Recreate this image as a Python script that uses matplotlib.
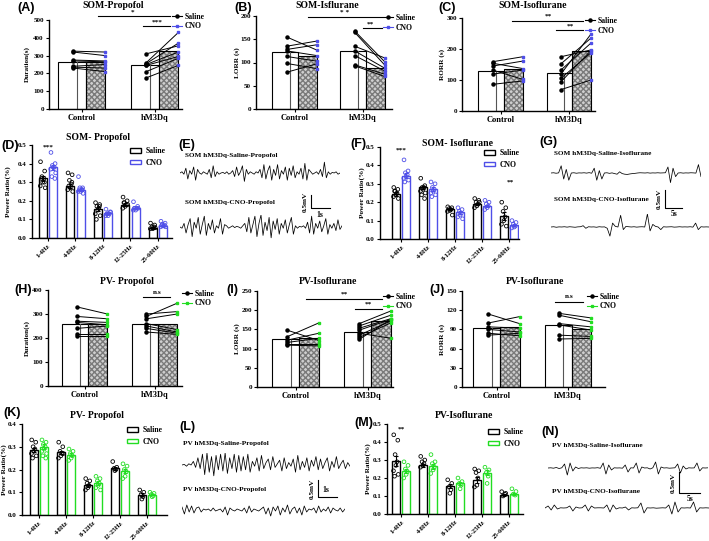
import matplotlib
matplotlib.use('Agg')
import matplotlib.pyplot as plt
from matplotlib.lines import Line2D
from matplotlib.patches import Patch
import numpy as np

W, H = 709, 541
BLUE = '#4f4fe8'
GREEN = '#22dd22'

plt.rcParams['font.family'] = ['Liberation Serif', 'DejaVu Serif']
plt.rcParams['font.weight'] = 'bold'
plt.rcParams['axes.linewidth'] = 1.0

groups = ['Control', 'hM3Dq']
bands = ['1-4Hz', '4-8Hz', '8-12Hz', '12-25Hz', '25-60Hz']

# (A) SOM propofol duration
a_sal = [[325, 320, 275, 270, 240, 235, 230], [310, 260, 255, 250, 245, 210, 175]]
a_cno = [[320, 300, 270, 265, 250, 230, 210], [355, 430, 370, 320, 295, 285, 245]]
a_bar = [[265, 245], [262, 325]]
# (B) SOM isoflurane LORR
b_sal = [[155, 135, 128, 125, 113, 98, 79], [168, 165, 135, 125, 115, 95, 93]]
b_cno = [[127, 146, 138, 115, 103, 87, 97], [102, 95, 110, 88, 82, 75, 70]]
b_bar = [[123, 125], [115, 88]]
# (C) SOM isoflurane RORR
c_sal = [[159, 154, 145, 132, 119, 86], [175, 152, 132, 119, 105, 94, 69]]
c_cno = [[175, 137, 161, 102, 132, 97], [197, 235, 219, 248, 188, 195, 100]]
c_bar = [[130, 121], [134, 195]]
# (H) PV propofol duration
h_sal = [[330, 290, 270, 265, 240, 215, 210], [300, 290, 280, 260, 250, 240, 225]]
h_cno = [[300, 280, 265, 255, 250, 215, 210], [310, 345, 300, 235, 225, 220, 215]]
h_bar = [[258, 260], [257, 258]]
# (I) PV isoflurane LORR
i_sal = [[148, 131, 122, 116, 112, 109], [165, 159, 153, 148, 140, 135, 129, 124]]
i_cno = [[121, 167, 140, 127, 112, 107], [198, 187, 178, 176, 127, 172, 167, 176]]
i_bar = [[124, 142], [128, 172]]
# (J) PV isoflurane RORR
j_sal = [[114, 100, 94, 90, 84, 81], [115, 112, 99, 97, 81, 75]]
j_cno = [[99, 110, 92, 86, 80, 84], [108, 102, 94, 89, 79, 76]]
j_bar = [[92, 97], [93, 90]]

# (D) SOM propofol power ratio
d_sal = [[0.41, 0.36, 0.33, 0.32, 0.30, 0.28, 0.27, 0.32, 0.30],
         [0.35, 0.34, 0.31, 0.29, 0.27, 0.26, 0.25, 0.28, 0.30],
         [0.19, 0.18, 0.17, 0.16, 0.15, 0.13, 0.12, 0.10, 0.17],
         [0.22, 0.20, 0.19, 0.18, 0.17, 0.16, 0.18, 0.19],
         [0.08, 0.07, 0.06, 0.06, 0.05, 0.05, 0.055]]
d_cno = [[0.46, 0.40, 0.39, 0.38, 0.38, 0.37, 0.35, 0.33, 0.32],
         [0.33, 0.27, 0.27, 0.26, 0.25, 0.25, 0.24, 0.26, 0.26],
         [0.155, 0.14, 0.13, 0.13, 0.12, 0.12, 0.14, 0.13],
         [0.195, 0.17, 0.16, 0.16, 0.15, 0.15, 0.16, 0.16],
         [0.09, 0.08, 0.075, 0.07, 0.065, 0.06, 0.06, 0.07]]
d_bar_sal = [0.32, 0.28, 0.155, 0.18, 0.055]
d_bar_cno = [0.38, 0.26, 0.135, 0.16, 0.065]
d_err_sal = [0.015, 0.012, 0.012, 0.008, 0.004]
d_err_cno = [0.013, 0.009, 0.005, 0.006, 0.004]
# (F) SOM isoflurane power ratio
f_sal = [[0.28, 0.27, 0.26, 0.25, 0.24, 0.23, 0.22, 0.26],
         [0.33, 0.29, 0.28, 0.28, 0.27, 0.26, 0.25, 0.24, 0.22],
         [0.175, 0.17, 0.165, 0.16, 0.155, 0.15, 0.13],
         [0.22, 0.21, 0.20, 0.19, 0.18, 0.17, 0.20],
         [0.20, 0.17, 0.15, 0.12, 0.10, 0.08, 0.07]]
f_cno = [[0.43, 0.37, 0.36, 0.35, 0.34, 0.33, 0.32, 0.31],
         [0.31, 0.30, 0.28, 0.27, 0.26, 0.25, 0.24, 0.23],
         [0.17, 0.16, 0.15, 0.14, 0.13, 0.12, 0.11],
         [0.21, 0.20, 0.19, 0.18, 0.17, 0.16],
         [0.10, 0.09, 0.08, 0.07, 0.065, 0.06]]
f_bar_sal = [0.245, 0.28, 0.165, 0.19, 0.125]
f_bar_cno = [0.345, 0.27, 0.145, 0.18, 0.075]
f_err_sal = [0.01, 0.01, 0.005, 0.006, 0.02]
f_err_cno = [0.013, 0.01, 0.007, 0.007, 0.006]
# (K) PV propofol power ratio
k_sal = [[0.33, 0.32, 0.30, 0.29, 0.28, 0.27, 0.26, 0.25],
         [0.32, 0.30, 0.28, 0.27, 0.26, 0.25, 0.27],
         [0.16, 0.15, 0.14, 0.13, 0.12, 0.11],
         [0.235, 0.21, 0.205, 0.20, 0.195],
         [0.11, 0.10, 0.09, 0.08, 0.07]]
k_cno = [[0.33, 0.32, 0.31, 0.30, 0.29, 0.28, 0.27, 0.26, 0.25],
         [0.29, 0.28, 0.27, 0.26, 0.25, 0.24],
         [0.17, 0.16, 0.15, 0.14, 0.13, 0.12, 0.11],
         [0.225, 0.215, 0.20, 0.19, 0.17, 0.16],
         [0.10, 0.095, 0.09, 0.085, 0.08]]
k_bar_sal = [0.285, 0.275, 0.13, 0.205, 0.09]
k_bar_cno = [0.30, 0.265, 0.14, 0.195, 0.09]
k_err_sal = [0.01, 0.008, 0.007, 0.005, 0.006]
k_err_cno = [0.01, 0.007, 0.008, 0.009, 0.004]
# (M) PV isoflurane power ratio
m_sal = [[0.44, 0.41, 0.33, 0.29, 0.27, 0.24, 0.22, 0.21],
         [0.32, 0.30, 0.29, 0.28, 0.27, 0.26],
         [0.19, 0.17, 0.15, 0.135, 0.115],
         [0.25, 0.24, 0.23, 0.20, 0.16, 0.15],
         [0.124, 0.115, 0.10, 0.11]]
m_cno = [[0.29, 0.27, 0.25, 0.235, 0.22, 0.20],
         [0.33, 0.29, 0.28, 0.26, 0.245, 0.225],
         [0.20, 0.18, 0.17, 0.16, 0.14],
         [0.26, 0.245, 0.23, 0.21, 0.17],
         [0.14, 0.125, 0.11, 0.105]]
m_bar_sal = [0.295, 0.27, 0.155, 0.19, 0.105]
m_bar_cno = [0.24, 0.265, 0.17, 0.23, 0.11]
m_err_sal = [0.03, 0.01, 0.013, 0.016, 0.006]
m_err_cno = [0.012, 0.015, 0.01, 0.015, 0.007]

# EEG traces (relative amplitude)
e_sal = [0.0, 0.1, -0.1, 0.4, -0.5, 0.2, -0.1, 0.5, -0.6, 0.3, 0.0, -0.1, 0.1, 0.0, -0.1, 0.3, -0.4, 0.6, -0.3, 0.1,
         -0.1, 0.0, 0.05, -0.05, 0.1, -0.1, 0.0, 0.2, -0.3, 0.5, -0.2, 0.1, 0.6, -0.7, 0.3, -0.1, 0.1, 0.0, -0.1, 0.1,
         0.0, 0.3, -0.4, 0.7, -0.5, 0.2, 0.6, -0.6, 0.3, -0.2, 0.7, -0.5, 0.2, -0.1, 0.5, -0.6, 0.4, -0.2, 0.6, -0.4,
         0.1, -0.1, 0.4, -0.5, 0.8, -0.6, 0.3, 0.1, -0.1, 0.0, 0.1, -0.1, 0.3, -0.3, 0.9, -0.4, 0.1, -0.1, 0.05, 0.0,
         0.1, -0.1, 0.0]
e_cno = [0.0, -0.1, 0.3, -0.5, 0.2, 0.7, -0.8, 0.4, -0.1, 0.8, -0.6, 0.2, 0.9, -0.7, 0.3, -0.2, 0.6, -0.5, 0.1, -0.1,
         0.7, -0.6, 0.2, 0.1, -0.1, 0.0, 0.1, -0.05, 0.05, 0.0, -0.1, 0.1, 0.3, -0.4, 0.8, -0.5, 0.2, 0.9, -0.8, 0.3,
         1.0, -0.7, 0.4, -0.3, 0.8, -0.9, 0.5, -0.2, 0.7, -0.6, 0.3, -0.1, 0.6, -0.5, 0.2, 0.8, -0.6, 0.1, -0.1, 0.05,
         0.0, 0.1, -0.1, 0.4, -0.5, 0.9, -0.6, 0.3, -0.1, 0.5, -0.4, 0.1, 0.7, -0.6, 0.2, -0.1, 0.3, -0.3, 0.6, -0.2,
         0.1]
g_sal = [0, 0.02, -0.02, 0.01, 0.6, -0.5, 0.3, -0.6, 0.0, 0.02, -0.02, 0.01, 0, 0.02, -0.01, 0.03, -0.02, 0.4, -0.6,
         0.2, -0.5, 0.0, 0.02, -0.03, 0.01, -0.05, -0.1, 0.1, -0.05, -0.1, -0.12, -0.08, -0.05, -0.03, 0.0, 0.02, 0.01,
         0.0, 0.02, -0.01, 0.01, 0.0, 0.02, 0.0, 0.01, 0.02, 0.5, -0.8, 0.4, -0.3, 0.0, 0.02, -0.01, 0.01, 0.0, 0.02,
         0.01, -0.01, 0.7, -0.3]
g_cno = [0, 0.02, -0.02, 0.01, 0, 0.02, -0.01, 0.02, 0.0, -0.02, 0.01, 0.02, 0.1, -0.1, 0.02, 0.0, 0.01, -0.02, 0.02,
         0.0, 0.01, -0.1, -0.7, 0.3, 0.05, 0.0, 0.9, -0.2, 0.05, 0.02, 0.0, 0.02, -0.01, 0.01, 0.02, 0.0, 1.0, -0.3,
         0.2, 0.05, 0.0, -0.2, 0.02, 0.0, 0.01, 0.02, -0.01, 0.0, 0.02, 0.0, 0.01, 0.0, 0.02, -0.01, 0.3, -0.2, 0.02,
         0.0, 0.01, 0.0]
l_sal = [0, 0.05, -0.1, 0.1, 0.0, 0.3, -0.2, 0.6, -0.3, 0.9, -0.8, 1.0, -0.6, 0.7, -0.9, 0.8, -0.4, 0.9, -0.5, 1.0,
         -0.7, 0.6, -0.3, 0.9, -0.6, 0.8, -0.5, 0.7, -0.4, 0.9, -0.6, 0.3, -0.1, 0.6, -0.5, 0.8, -0.3, 0.2, 0.5, -0.4,
         0.7, -0.2, 0.1, 0.4, -0.5, 0.6, -0.3, 0.2, -0.1, 0.5, -0.6, 0.8, -0.4, 0.3, -0.2, 0.6, -0.5, 0.4, -0.1, 0.7,
         -0.4, 0.5, -0.3, 0.2, 0.6, -0.5, 0.3, -0.2, 0.7, -0.3, 0.1, 0.4, -0.3, 0.2, -0.1]
l_cno = [0.3, -0.4, 0.5, -0.2, 0.4, -0.3, 0.2, 0.3, -0.2, 0.1, 0.0, 0.1, -0.1, 0.2, -0.1, 0.0, 0.1, -0.2, 0.3, -0.5,
         0.2, 0.0, -0.1, 0.1, 0.0, -0.1, 0.2, -0.3, 0.4, -0.2, 0.1, 0.0, -0.1, 0.1, 0.3, -0.4, 0.2, -0.6, 0.3, -0.1,
         0.4, -0.5, 0.2, -0.2, 0.5, -0.4, 0.1, 0.3, -0.3, 0.2, -0.5, 0.4, -0.2, 0.1, 0.0, 0.2, -0.3, 0.4, -0.2, 0.1,
         -0.1, 0.3, -0.3, 0.2, 0.0, -0.1, 0.2, -0.2, 0.1]
n_sal = [0, 0.02, -0.02, 0.05, -0.05, 0.02, 0.4, -0.7, 0.5, -0.3, 0.1, -0.05, 0.02, 0.0, 0.02, -0.02, 0.01, 0.0, 0.03,
         -0.03, 0.5, -0.6, 0.3, -0.2, 0.02, 0.0, 0.01, -0.02, 0.3, -0.4, 0.02, 0.0, 0.5, -0.5, 0.1, 0.0, 0.02, -0.1,
         0.02, 0.6, -0.6, 0.1, 0.0, 0.02, -0.02, 0.0, 0.02, 0.4, -0.5, 0.2, -0.1, 0.02, 0.0, 0.01, 0.5, -0.3, 0.02,
         0.0, 0.02]
n_cno = [0, 0.2, -0.2, 0.3, -0.1, 0.02, 0.0, 0.02, 0.2, -0.3, 0.1, 0.0, 0.02, 0.3, -0.3, 0.2, 0.0, 0.02, 0.02, 0.0,
         0.3, -0.4, 0.3, -0.1, 0.02, 0.0, 0.1, -0.2, 0.02, 0.0, 0.02, 0.5, -0.5, 0.02, 0.0, 0.02, -0.02, 0.0, 0.02,
         0.0, 0.3, -0.6, 0.6, -0.4, 0.02, 0.0, 0.02, 0.0, 0.6, -0.4, 0.02, 0.0, 0.02, 0.0]

JIT = [-0.08, 0.07, -0.03, 0.04, 0.0, -0.09, 0.09, -0.05, 0.06]

fig = plt.figure(figsize=(W / 100, H / 100), dpi=100)


def frac(x0, y0, x1, y1):
    return [x0 / W, 1 - y1 / H, (x1 - x0) / W, (y1 - y0) / H]


def ftext(x, y, s, **kw):
    kw.setdefault('ha', 'center')
    kw.setdefault('va', 'center')
    kw.setdefault('fontsize', 5.2)
    kw.setdefault('fontweight', 'bold')
    fig.text(x / W, 1 - y / H, s, **kw)


def fline(xs, ys, lw=0.8):
    fig.add_artist(Line2D([x / W for x in xs], [1 - y / H for y in ys], color='black', lw=lw))


def label(x, y, s):
    ftext(x, y, s, fontsize=9, family=['Liberation Sans', 'DejaVu Sans'])


def style(ax):
    for s in ['top', 'right']:
        ax.spines[s].set_visible(False)
    ax.tick_params(direction='out', length=2.5, width=0.8, labelsize=5, pad=1.2)
    for t in ax.get_xticklabels() + ax.get_yticklabels():
        t.set_fontweight('bold')


def paired(box, xlim, ylim, yticks, sal, cno, bar, col, ylab, ylx, leg):
    ax = fig.add_axes(frac(*box))
    for i in range(2):
        ax.bar(i - 0.14, bar[0][i], width=0.38, color='white', edgecolor='black', lw=0.8, zorder=1)
        ax.plot([i - 0.07, i - 0.07], [0, bar[0][i]], color='#555555', lw=0.8, zorder=1)
        ax.bar(i + 0.185, bar[1][i], width=0.27, color='#cfcfcf', hatch='xxxxxx', edgecolor='#7a7a7a', lw=0, zorder=1)
        ax.bar(i + 0.185, bar[1][i], width=0.27, fill=False, edgecolor='black', lw=0.8, zorder=2)
        for s, c in zip(sal[i], cno[i]):
            ax.plot([i - 0.12, i + 0.32], [s, c], color='black', lw=0.7, zorder=3)
        ax.plot([i - 0.12] * len(sal[i]), sal[i], 'o', ms=2.2, color='black', zorder=4)
        ax.plot([i + 0.32] * len(cno[i]), cno[i], 's', ms=2.0, color=col, zorder=4)
    ax.set_xlim(*xlim)
    ax.set_ylim(*ylim)
    ax.set_yticks(yticks)
    ax.set_xticks([0, 1])
    ax.set_xticklabels(groups)
    style(ax)
    ax.tick_params(axis='x', labelsize=6)
    ftext(ylx, (box[1] + box[3]) / 2, ylab, rotation=90)
    hs = [Line2D([], [], color='black', marker='o', ms=2.2, lw=0.8),
          Line2D([], [], color=col, marker='s', ms=2.0, lw=0.8)]
    fig.legend(hs, ['Saline', 'CNO'], loc='center left', bbox_to_anchor=(leg[0] / W, 1 - leg[1] / H),
               frameon=False, handlelength=1.3, handletextpad=0.3, labelspacing=0.25,
               borderpad=0, borderaxespad=0, prop={'weight': 'bold', 'size': 5.5})
    return ax


def power(box, xlim, ylim, yticks, sal, cno, bs, bc, es, ec, col, ylx, leg):
    ax = fig.add_axes(frac(*box))
    x = np.arange(5)
    ax.bar(x - 0.19, bs, width=0.3, color='white', edgecolor='black', lw=1.0, zorder=1)
    ax.bar(x + 0.19, bc, width=0.3, color='white', edgecolor=col, lw=1.0, zorder=1)
    ax.errorbar(x - 0.19, bs, yerr=es, fmt='none', ecolor='black', elinewidth=0.8, capsize=1.5, capthick=0.8, zorder=3)
    ax.errorbar(x + 0.19, bc, yerr=ec, fmt='none', ecolor=col, elinewidth=0.8, capsize=1.5, capthick=0.8, zorder=3)
    for i in range(5):
        ax.scatter(x[i] - 0.19 + np.array(JIT[:len(sal[i])]), sal[i], s=7, facecolors='none',
                   edgecolors='black', lw=0.6, zorder=4)
        ax.scatter(x[i] + 0.19 + np.array(JIT[:len(cno[i])]), cno[i], s=7, facecolors='none',
                   edgecolors=col, lw=0.6, zorder=4)
    ax.set_xlim(*xlim)
    ax.set_ylim(*ylim)
    ax.set_yticks(yticks)
    ax.set_yticklabels(['%.1f' % t for t in yticks])
    ax.set_xticks(x)
    ax.set_xticklabels(bands, rotation=45, ha='right', rotation_mode='anchor')
    style(ax)
    ax.tick_params(axis='x', labelsize=4.8)
    ftext(ylx, (box[1] + box[3]) / 2, 'Power Ratio(%)', rotation=90)
    hs = [Patch(facecolor='white', edgecolor='black', lw=1.0), Patch(facecolor='white', edgecolor=col, lw=1.0)]
    fig.legend(hs, ['Saline', 'CNO'], loc='center left', bbox_to_anchor=(leg[0] / W, 1 - leg[1] / H),
               frameon=False, handlelength=1.4, handleheight=0.6, handletextpad=0.6, labelspacing=0.45,
               borderpad=0, borderaxespad=0, prop={'weight': 'bold', 'size': 5.5})
    return ax


def trace(box, vals):
    ax = fig.add_axes(frac(*box))
    ax.plot(vals, color='black', lw=0.55)
    ax.set_xlim(0, len(vals) - 1)
    ax.set_ylim(-1, 1)
    ax.axis('off')


def scalebar(x, y0, y1, x1, tx, ty, t):
    fline([x, x, x1], [y0, y1, y1])
    ftext(x - 6, (y0 + y1) / 2, '0.5mV', rotation=90, fontsize=5.2)
    ftext(tx, ty, t, fontsize=5.5)


# Row 1 paired panels
paired((49, 20, 182, 109), (-0.45, 1.37), (0, 500), range(0, 501, 100), a_sal, a_cno, a_bar, BLUE,
       'Duration(s)', 27, (172, 21.5))
paired((256, 16, 392, 109), (-0.57, 1.43), (0, 200), range(0, 201, 50), b_sal, b_cno, b_bar, BLUE,
       'LORR (s)', 237, (383, 23))
paired((462, 18, 595, 111), (-0.57, 1.38), (0, 300), range(0, 301, 100), c_sal, c_cno, c_bar, BLUE,
       'RORR (s)', 442, (585, 26))
ftext(113, 5, 'SOM-Propofol', fontsize=7)
ftext(327, 5, 'SOM-Isflurane', fontsize=7)
ftext(533, 6, 'SOM-Isoflurane', fontsize=7)
label(26, 8, '(A)')
label(243, 8, '(B)')
label(447, 8, '(C)')
fline([98, 170], [16, 16]); ftext(133, 12, '*')
fline([143, 170], [26, 26]); ftext(157, 22, '***')
fline([308, 382], [17, 17]); ftext(345, 13, '* *')
fline([363, 382], [28, 28]); ftext(370, 24, '**')
fline([512, 583], [21, 21]); ftext(548, 16, '**')
fline([556, 583], [30, 30]); ftext(570, 26, '**')

# Row 2
power((32, 145, 172, 238), (-0.58, 4.51), (0, 0.5), [0, 0.1, 0.2, 0.3, 0.4, 0.5], d_sal, d_cno,
      d_bar_sal, d_bar_cno, d_err_sal, d_err_cno, BLUE, 8, (130, 157))
power((380, 147, 519, 239), (-0.78, 4.37), (0, 0.5), [0, 0.1, 0.2, 0.3, 0.4, 0.5], f_sal, f_cno,
      f_bar_sal, f_bar_cno, f_err_sal, f_err_cno, BLUE, 362, (484, 159))
ftext(98, 138, 'SOM- Propofol', fontsize=7)
ftext(458, 143, 'SOM- Isoflurane', fontsize=7)
label(10, 146, '(D)')
label(187, 145, '(E)')
label(358, 144, '(F)')
label(548, 142, '(G)')
ftext(48, 147, '***')
ftext(401, 150, '***')
ftext(510, 182, '**')

trace((180, 161, 340, 185), e_sal)
trace((180, 215, 342, 239), e_cno)
ftext(185, 155, 'SOM hM3Dq-Saline-Propofol', ha='left', fontsize=5.2)
ftext(185, 202, 'SOM hM3Dq-CNO-Propofol', ha='left', fontsize=5.2)
scalebar(311, 195, 208, 330, 320, 215, '1s')
trace((551, 161, 701, 185), g_sal)
trace((551, 214, 709, 240), g_cno)
ftext(554, 154, 'SOM hM3Dq-Saline-Isoflurane', ha='left', fontsize=5.2)
ftext(554, 200, 'SOM hM3Dq-CNO-Isoflurane', ha='left', fontsize=5.2)
scalebar(665, 190, 208, 682, 674, 214, '5s')

# Row 3 paired panels
paired((48, 290, 182, 386), (-0.53, 1.39), (0, 400), range(0, 401, 100), h_sal, h_cno, h_bar, GREEN,
       'Duration(s)', 27, (182, 298.5))
paired((257, 291, 393, 387), (-0.54, 1.35), (0, 250), range(0, 251, 50), i_sal, i_cno, i_bar, GREEN,
       'LORR (s)', 237, (383, 301.5))
paired((462, 291, 605, 387), (-0.49, 1.52), (0, 150), range(0, 151, 30), j_sal, j_cno, j_bar, GREEN,
       'RORR (s)', 442, (587, 301.5))
ftext(127, 281, 'PV- Propofol', fontsize=7)
ftext(328, 281, 'PV-Isoflurane', fontsize=7)
ftext(535, 281, 'PV-Isoflurane', fontsize=7)
label(23, 290, '(H)')
label(232, 290, '(I)')
label(437, 290, '(J)')
fline([143, 170], [297, 297]); ftext(157, 292, 'n.s')
fline([306, 382], [299, 299]); ftext(344, 294, '**')
fline([355, 382], [309, 309]); ftext(368, 304, '**')
fline([555, 583], [302, 302]); ftext(569, 297, 'n.s')

# Row 4
power((22, 424, 167, 515), (-0.63, 4.74), (0, 0.4), [0, 0.1, 0.2, 0.3, 0.4], k_sal, k_cno,
      k_bar_sal, k_bar_cno, k_err_sal, k_err_cno, GREEN, 4, (127, 436))
power((387, 424, 523, 514), (-0.52, 4.52), (0, 0.5), [0, 0.1, 0.2, 0.3, 0.4, 0.5], m_sal, m_cno,
      m_bar_sal, m_bar_cno, m_err_sal, m_err_cno, GREEN, 368, (488, 438))
ftext(97, 415, 'PV- Propofol', fontsize=7)
ftext(464, 415, 'PV-Isoflurane', fontsize=7)
label(12, 413, '(K)')
label(187, 427, '(L)')
label(364, 423, '(M)')
label(550, 432, '(N)')
ftext(401, 429, '**')

trace((182, 453, 350, 477), l_sal)
trace((182, 500, 345, 520), l_cno)
ftext(183, 443, 'PV hM3Dq-Saline-Propofol', ha='left', fontsize=5.2)
ftext(183, 490, 'PV hM3Dq-CNO-Propofol', ha='left', fontsize=5.2)
scalebar(318, 480, 497, 337, 326, 490, '1s')
trace((548, 458, 708, 478), n_sal)
trace((545, 498, 709, 518), n_cno)
ftext(552, 445, 'PV hM3Dq-Saline-Isoflurane', ha='left', fontsize=5.2)
ftext(552, 492, 'PV hM3Dq-CNO-Isoflurane', ha='left', fontsize=5.2)
scalebar(679, 472, 493, 700, 690, 499, '5s')

fig.savefig('out.png', dpi=100)
